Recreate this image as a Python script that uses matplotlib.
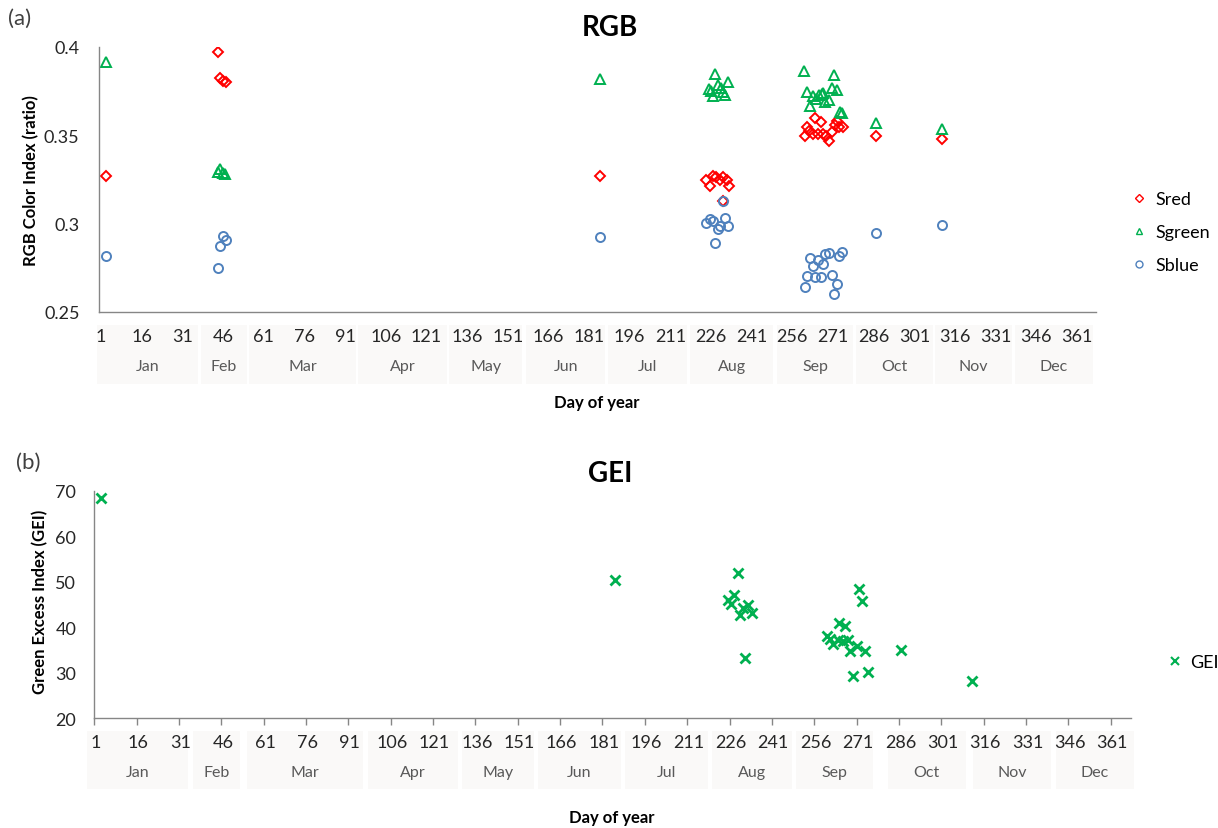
import matplotlib
matplotlib.use("Agg")
import matplotlib.pyplot as plt
from matplotlib.patches import Rectangle
from matplotlib.transforms import blended_transform_factory
from matplotlib.lines import Line2D

plt.rcParams['font.family'] = ['Lato', 'DejaVu Sans']

# ---------------- data (day of year, value) ----------------
sred_day = [2.8, 44.2, 44.9, 46.0, 47.1, 185.0,
            224.1, 225.6, 226.7, 227.8, 229.3, 230.4, 231.9, 232.6, 230.5,
            260.7, 261.4, 262.2, 263.6, 264.4, 265.5, 266.6, 267.3, 268.4, 269.5,
            270.6, 271.7, 272.4, 273.2, 274.7, 286.9, 311.2]
sred_val = [0.327, 0.397, 0.3824, 0.3808, 0.380, 0.327,
            0.3247, 0.3213, 0.327, 0.3264, 0.3247, 0.3264, 0.3247, 0.3213, 0.3128,
            0.3496, 0.3547, 0.3525, 0.3508, 0.3598, 0.3508, 0.3576, 0.3508, 0.3496, 0.3468,
            0.3519, 0.3559, 0.3581, 0.3547, 0.3547, 0.3496, 0.348]

sgreen_day = [2.8, 44.2, 44.9, 46.0, 46.7, 185.0,
              227.4, 225.2, 225.9, 226.7, 228.5, 229.6, 230.5, 231.2, 232.3,
              260.3, 271.4, 261.4, 262.5, 263.6, 264.7, 265.8, 266.9, 267.3, 268.1,
              269.5, 270.6, 272.4, 273.5, 274.3, 286.9, 311.2]
sgreen_val = [0.3915, 0.329, 0.331, 0.3287, 0.328, 0.3819,
              0.3847, 0.3762, 0.3751, 0.3723, 0.3785, 0.3768, 0.3745, 0.3728, 0.3802,
              0.3864, 0.3842, 0.3745, 0.3666, 0.3723, 0.3706, 0.3728, 0.3735, 0.374, 0.3689,
              0.370, 0.3768, 0.3757, 0.3632, 0.3626, 0.357, 0.3536]

sblue_day = [2.8, 44.2, 44.9, 46.0, 47.1, 185.0,
             224.1, 225.6, 226.7, 228.5, 229.3, 231.2, 232.3, 227.4, 230.5,
             260.7, 261.4, 262.5, 263.6, 264.4, 265.5, 266.6, 267.3, 268.1, 269.5,
             270.6, 271.4, 272.4, 273.2, 274.3, 286.9, 311.2]
sblue_val = [0.2817, 0.275, 0.2874, 0.293, 0.2908, 0.2925,
             0.3004, 0.3027, 0.3015, 0.297, 0.2987, 0.3032, 0.2987, 0.2891, 0.3128,
             0.2642, 0.2704, 0.2806, 0.2761, 0.2698, 0.2795, 0.2698, 0.2772, 0.2829, 0.2834,
             0.271, 0.2602, 0.2659, 0.2817, 0.284, 0.2947, 0.2993]

gei_day = [2.9, 184.9,
           228.5, 227.1, 225.0, 226.0, 230.3, 232.1, 229.2, 233.5, 230.9,
           271.4, 272.5, 264.3, 266.4, 260.0, 261.1, 262.2, 263.9, 265.7, 267.5,
           268.2, 270.7, 273.5, 269.3, 274.6, 286.2, 311.3]
gei_val = [68.5, 50.4,
           51.9, 47.1, 46.0, 45.1, 44.2, 44.9, 42.7, 43.1, 33.2,
           48.4, 45.8, 40.9, 40.3, 38.1, 37.4, 36.3, 37.2, 37.0, 37.2,
           34.8, 35.9, 34.8, 29.3, 30.2, 35.0, 28.2]

day_ticks = list(range(1, 362, 15))
day_labels = [str(d) for d in day_ticks]
months = ['Jan', 'Feb', 'Mar', 'Apr', 'May', 'Jun', 'Jul', 'Aug', 'Sep', 'Oct', 'Nov', 'Dec']

# month group boxes as drawn in the reference (day-axis units)
top_boxes = [(-0.5, 36.8), (37.9, 54.9), (55.6, 95.1), (95.8, 128.6), (129.4, 156.3),
             (157.8, 186.9), (188.1, 217.2), (218.3, 248.9), (250.4, 278.4),
             (279.5, 307.9), (308.6, 337.0), (338.1, 366.9)]
bot_boxes = [(-2.1, 33.7), (35.3, 52.1), (54.6, 95.7), (97.5, 129.3), (130.8, 156.3),
             (157.7, 186.9), (188.3, 217.7), (219.3, 247.8), (248.9, 276.2),
             (281.5, 309.1), (311.9, 339.4), (341.3, 368.6)]

RED = '#ff0000'
GREEN = '#00b050'
BLUE = '#4f81bd'
SPINE = '#868686'
BOXC = '#faf9f8'

W, H = 1218, 829
fig = plt.figure(figsize=(W / 100, H / 100), dpi=100)
ax1 = fig.add_axes([99 / W, 1 - 313 / H, 997 / W, 265 / H])
ax2 = fig.add_axes([94.3 / W, 1 - 719.3 / H, 1036.7 / W, 227.6 / H])

# ---------------- top panel ----------------
ax1.plot(sred_day, sred_val, ls='none', marker='D', ms=5, mfc='none', mec=RED, mew=1.4, label='Sred')
ax1.plot(sgreen_day, sgreen_val, ls='none', marker='^', ms=6.5, mfc='none', mec=GREEN, mew=1.4, label='Sgreen')
ax1.plot(sblue_day, sblue_val, ls='none', marker='o', ms=6.5, mfc='none', mec=BLUE, mew=1.4, label='Sblue')
ax1.set_xlim(0.26, 368)
ax1.set_ylim(0.25, 0.4)
ax1.set_yticks([0.25, 0.3, 0.35, 0.4])
ax1.set_yticklabels(['0.25', '0.3', '0.35', '0.4'])
ax1.set_xticks(day_ticks)
ax1.set_xticklabels(day_labels)
ax1.tick_params(axis='y', length=0, pad=14, labelsize=13, labelcolor='#262626')
ax1.tick_params(axis='x', length=0, pad=11.5, labelsize=13, labelcolor='#262626')
for s in ['top', 'right']:
    ax1.spines[s].set_visible(False)
for s in ['left', 'bottom']:
    ax1.spines[s].set_color(SPINE)
    ax1.spines[s].set_linewidth(1)

tr1 = blended_transform_factory(ax1.transData, ax1.transAxes)
for (x0, x1), m in zip(top_boxes, months):
    ax1.add_patch(Rectangle((x0, -0.2717), x1 - x0, 0.2226, transform=tr1, clip_on=False,
                            facecolor=BOXC, edgecolor='none', zorder=0))
    ax1.text((x0 + x1) / 2, -0.2038, m, transform=tr1, ha='center', va='center',
             fontsize=11.5, color='#595959')

# ---------------- bottom panel ----------------
ax2.plot(gei_day, gei_val, ls='none', marker='x', ms=7.5, mec=GREEN, mew=2, label='GEI')
ax2.set_xlim(0.5, 367.7)
ax2.set_ylim(20, 70)
ax2.set_yticks([20, 30, 40, 50, 60, 70])
ax2.set_xticks(day_ticks)
ax2.set_xticklabels(day_labels)
ax2.set_xticks([d - 0.5 for d in day_ticks], minor=True)
ax2.tick_params(axis='x', which='major', length=0, pad=11.5, labelsize=13, labelcolor='#262626')
ax2.tick_params(axis='x', which='minor', length=5, width=1, color=SPINE, direction='out')
ax2.tick_params(axis='y', length=0, pad=13, labelsize=13, labelcolor='#262626')
for s in ['top', 'right']:
    ax2.spines[s].set_visible(False)
for s in ['left', 'bottom']:
    ax2.spines[s].set_color(SPINE)
    ax2.spines[s].set_linewidth(1)

tr2 = blended_transform_factory(ax2.transData, ax2.transAxes)
for (x0, x1), m in zip(bot_boxes, months):
    ax2.add_patch(Rectangle((x0, -0.3106), x1 - x0, 0.2548, transform=tr2, clip_on=False,
                            facecolor=BOXC, edgecolor='none', zorder=0))
    ax2.text((x0 + x1) / 2, -0.236, m, transform=tr2, ha='center', va='center',
             fontsize=11.5, color='#595959')

# ---------------- texts ----------------
fig.text(610 / W, 1 - 28 / H, 'RGB', ha='center', va='center', fontsize=20, fontweight='bold', color='black')
fig.text(610 / W, 1 - 474 / H, 'GEI', ha='center', va='center', fontsize=20, fontweight='bold', color='black')
fig.text(20 / W, 1 - 19 / H, '(a)', ha='center', va='center', fontsize=16, color='#404040')
fig.text(28 / W, 1 - 463 / H, '(b)', ha='center', va='center', fontsize=16, color='#404040')
fig.text(31 / W, 1 - 181 / H, 'RGB Color Index (ratio)', rotation=90, ha='center', va='center',
         fontsize=12, fontweight='bold', color='black')
fig.text(40 / W, 1 - 602 / H, 'Green Excess Index (GEI)', rotation=90, ha='center', va='center',
         fontsize=12, fontweight='bold', color='black')
fig.text(597 / W, 1 - 403 / H, 'Day of year', ha='center', va='center', fontsize=12, fontweight='bold')
fig.text(612 / W, 1 - 818 / H, 'Day of year', ha='center', va='center', fontsize=12, fontweight='bold')

# legends
h_top = [Line2D([], [], ls='none', marker='D', ms=4, mfc='none', mec=RED, mew=1.0),
         Line2D([], [], ls='none', marker='^', ms=5, mfc='none', mec=GREEN, mew=1.0),
         Line2D([], [], ls='none', marker='o', ms=5, mfc='none', mec=BLUE, mew=1.0)]
fig.legend(h_top, ['Sred', 'Sgreen', 'Sblue'], loc='center left',
           bbox_to_anchor=(1132 / W, 1 - 233 / H), frameon=False, fontsize=13,
           handlelength=0.8, handletextpad=0.5, labelspacing=0.95, borderpad=0, borderaxespad=0)
h_bot = [Line2D([], [], ls='none', marker='x', ms=6, mec=GREEN, mew=1.5)]
fig.legend(h_bot, ['GEI'], loc='center left', bbox_to_anchor=(1168 / W, 1 - 663 / H),
           frameon=False, fontsize=13, handlelength=0.8, handletextpad=0.4,
           borderpad=0, borderaxespad=0)

fig.savefig('out.png', dpi=100)
